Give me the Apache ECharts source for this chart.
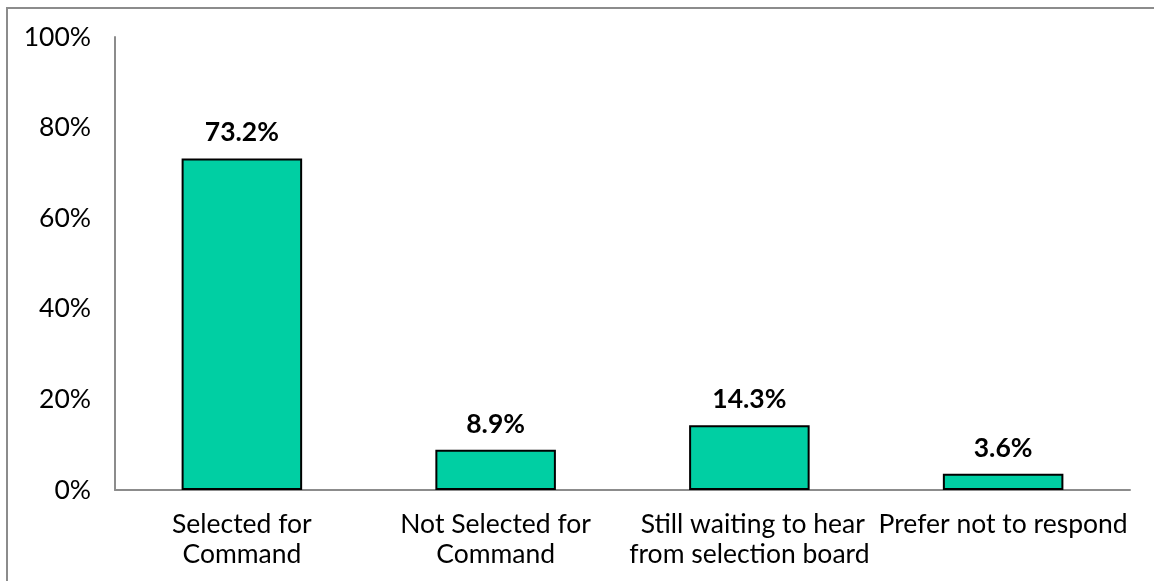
<!DOCTYPE html>
<html>
<head>
<meta charset="utf-8">
<script src="https://cdn.jsdelivr.net/npm/echarts@6/dist/echarts.min.js"></script>
<style>
  html, body { margin: 0; padding: 0; background: #fff; }
  #frame { position: absolute; left: 6px; top: 7px; width: 1160px; height: 590px; border: 2px solid #8c8c8c; box-sizing: border-box; }
  #chart { position: absolute; left: 0; top: 0; width: 1154px; height: 581px; }
</style>
</head>
<body>
<div id="frame"></div>
<div id="chart"></div>
<script>
const categories = ['Selected for\nCommand', 'Not Selected for\nCommand', ' Still waiting to hear\nfrom selection board', 'Prefer not to respond'];
const values = [73.2, 8.9, 14.3, 3.6];
const yTicks = [0, 20, 40, 60, 80, 100];

const chart = echarts.init(document.getElementById('chart'));
const font = 'Lato, "Open Sans", sans-serif';
chart.setOption({
  animation: false,
  grid: { left: 115, right: 24, top: 37, bottom: 91, containLabel: false },
  xAxis: {
    type: 'category',
    data: categories,
    axisLine: { lineStyle: { color: '#8c8c8c', width: 2 } },
    axisTick: { show: false },
    axisLabel: { color: '#000', fontFamily: font, fontSize: 26.5, lineHeight: 30, margin: 19, interval: 0 }
  },
  yAxis: {
    type: 'value',
    min: yTicks[0],
    max: yTicks[yTicks.length - 1],
    interval: 20,
    axisLine: { show: true, lineStyle: { color: '#8c8c8c', width: 2 } },
    axisTick: { show: false },
    splitLine: { show: false },
    axisLabel: { color: '#000', fontFamily: font, fontSize: 26.5, margin: 24, formatter: v => v + '%' }
  },
  series: [{
    type: 'bar',
    data: values,
    barWidth: '47.5%',
    itemStyle: { color: '#00cfa3', borderColor: '#000', borderWidth: 2 },
    label: {
      show: true,
      position: 'top',
      distance: 12,
      color: '#000',
      fontFamily: font,
      fontSize: 26.5,
      fontWeight: 'bold',
      formatter: p => p.value.toFixed(1) + '%'
    }
  }]
});
</script>
</body>
</html>
